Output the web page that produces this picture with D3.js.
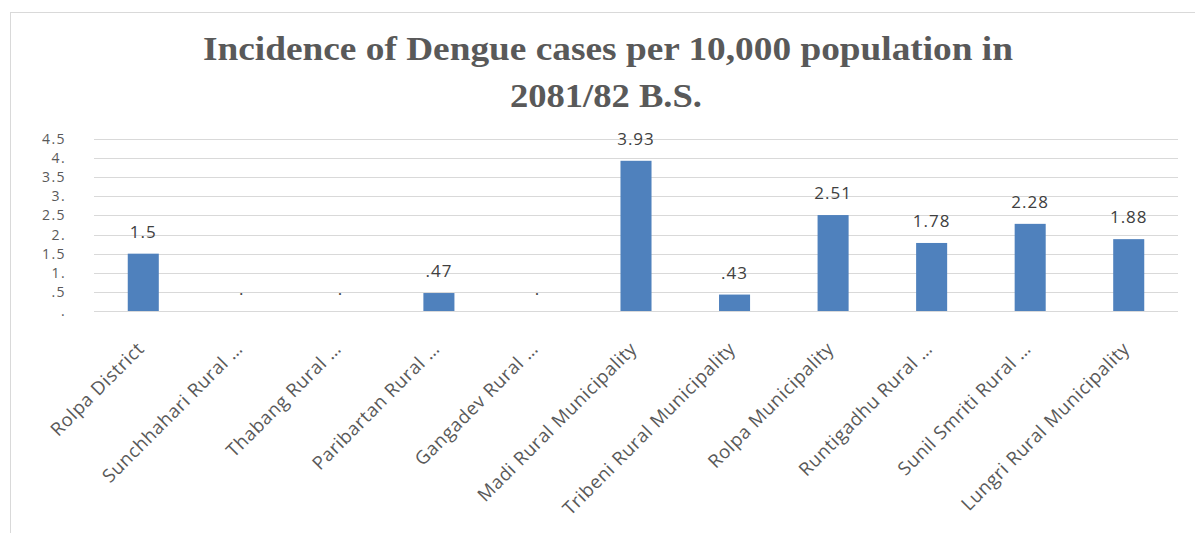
<!DOCTYPE html>
<html>
<head>
<meta charset="utf-8">
<script src="https://cdn.jsdelivr.net/npm/d3@7"></script>
<style>
  body { margin: 0; background: #fff; }
  svg { display: block; }
</style>
</head>
<body>
<svg id="chart"></svg>
<script>
// Chart data
const categories = [
    "Rolpa District",
    "Sunchhahari Rural …",
    "Thabang Rural …",
    "Paribartan Rural …",
    "Gangadev Rural …",
    "Madi Rural Municipality",
    "Tribeni Rural Municipality",
    "Rolpa Municipality",
    "Runtigadhu Rural …",
    "Sunil Smriti Rural …",
    "Lungri Rural Municipality"
];
const values = [1.5, 0, 0, 0.47, 0, 3.93, 0.43, 2.51, 1.78, 2.28, 1.88];
const valueLabels = ["1.5", ".", ".", ".47", ".", "3.93", ".43", "2.51", "1.78", "2.28", "1.88"];
const yTicks = [0, 0.5, 1, 1.5, 2, 2.5, 3, 3.5, 4, 4.5];
const yTickLabels = [".", ".5", "1.", "1.5", "2.", "2.5", "3.", "3.5", "4.", "4.5"];

const width = 1195, height = 533;
const svg = d3.select("#chart").attr("width", width).attr("height", height);

// outer chart frame (runs off the right and bottom edge)
svg.append("rect")
    .attr("x", 10.5).attr("y", 12.5)
    .attr("width", width).attr("height", height)
    .attr("fill", "none")
    .attr("stroke", "#d9d9d9");

// plot area
const plot = { left: 94, right: 1178, top: 139, bottom: 311 };

const x = d3.scaleBand()
    .domain(categories)
    .range([plot.left, plot.right])
    .paddingInner(0.685)
    .paddingOuter(0.3425);

const y = d3.scaleLinear()
    .domain([0, 4.5])
    .range([plot.bottom, plot.top]);

// gridlines
svg.append("g")
    .selectAll("line")
    .data(yTicks)
    .join("line")
    .attr("x1", plot.left).attr("x2", plot.right)
    .attr("y1", d => Math.round(y(d)) + 0.5)
    .attr("y2", d => Math.round(y(d)) + 0.5)
    .attr("stroke", "#d9d9d9");

// y axis labels (ticks are packed tight, keep font small)
const yAxis = svg.append("g")
    .attr("transform", `translate(${plot.left},0)`)
    .call(d3.axisLeft(y).tickValues(yTicks).tickSize(0).tickPadding(28)
        .tickFormat((d, i) => yTickLabels[i]));
yAxis.select(".domain").remove();
yAxis.selectAll("text")
    .attr("font-family", "'Open Sans', sans-serif")
    .attr("font-size", "14px")
    .attr("letter-spacing", "1.4px")
    .attr("fill", "#595959");

// bars
svg.append("g")
    .selectAll("rect")
    .data(values)
    .join("rect")
    .attr("x", (d, i) => x(categories[i]))
    .attr("y", d => y(d))
    .attr("width", x.bandwidth())
    .attr("height", d => y(0) - y(d))
    .attr("fill", "#4f81bd");

// data labels
svg.append("g")
    .selectAll("text")
    .data(values)
    .join("text")
    .attr("x", (d, i) => x(categories[i]) + x.bandwidth() / 2)
    .attr("y", d => y(d) - 16)
    .attr("text-anchor", "middle")
    .attr("font-family", "'Open Sans', sans-serif")
    .attr("font-size", "17px")
    .attr("letter-spacing", "1px")
    .attr("fill", "#404040")
    .text((d, i) => valueLabels[i]);

// category labels, rotated
svg.append("g")
    .selectAll("text")
    .data(categories)
    .join("text")
    .attr("transform", d => `translate(${x(d) + x.bandwidth() / 2 + 2},350) rotate(-45)`)
    .attr("text-anchor", "end")
    .attr("font-family", "'Open Sans', sans-serif")
    .attr("font-size", "18.5px")
    .attr("letter-spacing", "0.6px")
    .attr("fill", "#595959")
    .text(d => d);

// title
const title = svg.append("text")
    .attr("text-anchor", "middle")
    .attr("font-family", "'Liberation Serif', 'Times New Roman', serif")
    .attr("font-weight", "bold")
    .attr("font-size", "33px")
    .attr("fill", "#595959");
title.append("tspan").attr("x", 608).attr("y", 60)
    .attr("textLength", 810).attr("lengthAdjust", "spacingAndGlyphs")
    .text("Incidence of Dengue cases per 10,000 population in");
title.append("tspan").attr("x", 606).attr("y", 107)
    .attr("textLength", 192).attr("lengthAdjust", "spacingAndGlyphs")
    .text("2081/82 B.S.");
</script>
</body>
</html>
